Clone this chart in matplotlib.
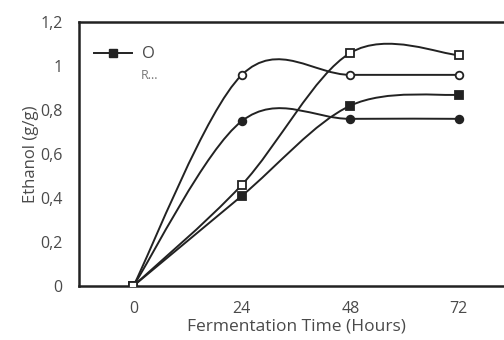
import matplotlib.pyplot as plt
import numpy as np
from matplotlib.path import Path
from matplotlib.patches import PathPatch
from matplotlib.ticker import FuncFormatter

plt.rcParams['font.family'] = ['Open Sans', 'DejaVu Sans']

tempo = ['0', '24', '48', '72']
serieQuadPieno = [0, 0.41, 0.82, 0.87]
serieCerchioPieno = [0, 0.75, 0.76, 0.76]
serieCerchioVuoto = [0, 0.96, 0.96, 0.96]
serieQuadVuoto = [0, 0.46, 1.06, 1.05]
etichetta = 'O'

col = '#222222'
grigio = '#4a4a4a'


def curvaLiscia(ax, x, y):
    # curva tipo Excel (Catmull-Rom -> Bezier)
    x = np.asarray(x, float)
    y = np.asarray(y, float)
    pts = np.column_stack([x, y])
    verts = [pts[0]]
    codes = [Path.MOVETO]
    n = len(pts)
    for i in range(n - 1):
        p0 = pts[i - 1] if i > 0 else pts[i]
        p1 = pts[i]
        p2 = pts[i + 1]
        p3 = pts[i + 2] if i + 2 < n else pts[i + 1]
        c1 = p1 + (p2 - p0) / 6
        c2 = p2 - (p3 - p1) / 6
        verts += [c1, c2, p2]
        codes += [Path.CURVE4] * 3
    ax.add_patch(PathPatch(Path(verts, codes), fill=False, lw=1.4, edgecolor=col, zorder=2))


fig = plt.figure(figsize=(5.04, 3.4), dpi=100)
ax = fig.add_axes([0.157, 0.159, 0.861, 0.776])

xs = np.arange(len(tempo))
for serie, mk, fc in [(serieQuadPieno, 's', col), (serieCerchioPieno, 'o', col),
                      (serieCerchioVuoto, 'o', 'white'), (serieQuadVuoto, 's', 'white')]:
    curvaLiscia(ax, xs, serie)
    ax.plot(xs, serie, linestyle='none', marker=mk, markersize=5.5,
            markerfacecolor=fc, markeredgecolor=col, markeredgewidth=1.3, zorder=3)

ax.plot([], [], '-s', color=col, lw=1.4, markersize=5.5, label=etichetta)
leg = ax.legend(loc='upper left', bbox_to_anchor=(0.0, 0.965), frameon=False,
                handlelength=2.3, handletextpad=0.6, fontsize=12, labelcolor=grigio)
ax.text(0.142, 0.785, 'R...', transform=ax.transAxes, fontsize=9, color='#777777')

ax.set_xlim(-0.5, 3.5)
ax.set_ylim(0, 1.2)
ax.set_xticks(xs)
ax.set_xticklabels(tempo)
ax.set_yticks(np.arange(0, 1.21, 0.2))
ax.yaxis.set_major_formatter(FuncFormatter(lambda v, p: ('%g' % round(v, 1)).replace('.', ',')))
ax.tick_params(length=0, labelsize=11.5, colors=grigio)
ax.tick_params(axis='y', pad=12)
ax.tick_params(axis='x', pad=11)
for s in ax.spines.values():
    s.set_linewidth(1.8)
    s.set_color(col)

ax.set_xlabel('Fermentation Time (Hours)', fontsize=12.5, color=grigio, labelpad=1)
ax.set_ylabel('Ethanol (g/g)', fontsize=12, color=grigio, labelpad=1)

fig.savefig('out.png', dpi=100)
